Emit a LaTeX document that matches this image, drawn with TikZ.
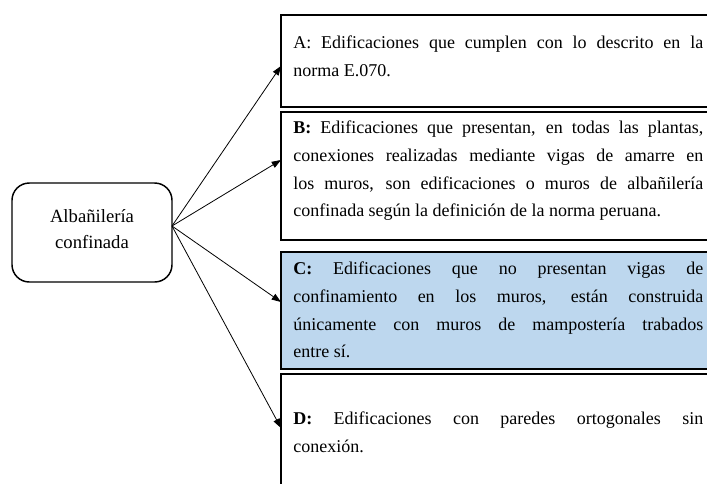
\documentclass[tikz,border=0pt]{standalone}
\usepackage{fontspec}
\setmainfont{Liberation Serif}
\usetikzlibrary{arrows.meta,fit}
\definecolor{boxblue}{HTML}{BDD7EE}
\hyphenpenalty=10000
\exhyphenpenalty=10000
\tolerance=10000
\tikzset{
  catbox/.style={draw=black, line width=1.1pt, inner sep=0pt},
  cattext/.style={anchor=north west, inner sep=0pt, text width=307.5pt, align=justify,
    font=\fontsize{13.5}{20.7}\selectfont},
  rootbox/.style={draw=black, line width=1.1pt, inner sep=0pt, rounded corners=13pt},
  roottext/.style={align=center, inner sep=0pt, font=\fontsize{14}{19.5}\selectfont},
  link/.style={line width=0.6pt, -{Triangle[length=7pt,width=5pt]}},
}
\begin{document}
\begin{tikzpicture}[x=0.75pt,y=-0.75pt]
\useasboundingbox (0,0) rectangle (707,483);
\clip (0,0) rectangle (707,483);

% root
\node[rootbox, fit={(12,183) (172,282)}] (root) {};
\node[roottext] (roottxt) at (92,229) {Albañilería\\confinada};
\coordinate (src) at (172,226);

% category boxes
\node[catbox, fit={(281,15) (715,107)}] (A) {};
\node[catbox, fit={(281,112) (715,240)}] (B) {};
\node[catbox, fill=boxblue, fit={(281,252) (715,369)}] (C) {};
\node[catbox, fit={(281,374) (715,495)}] (D) {};

% texts
\node[cattext] (Atxt) at (293,36) {A: Edificaciones que cumplen con lo descrito en la\linebreak norma E.070.};
\node[cattext] (Btxt) at (293,121) {\textbf{B:} Edificaciones que presentan, en todas las plantas,\linebreak conexiones realizadas mediante vigas de amarre en\linebreak los muros, son edificaciones o muros de albañilería\linebreak confinada según la definición de la norma peruana.};
\node[cattext] (Ctxt) at (293,262) {\textbf{C:} Edificaciones que no presentan vigas de\linebreak confinamiento en los muros, están construida\linebreak únicamente con muros de mampostería trabados\linebreak entre sí.};
\node[cattext] (Dtxt) at (293,412) {\textbf{D:} Edificaciones con paredes ortogonales sin\linebreak conexión.};

% arrow targets on the left sides
\coordinate (tA) at (281,66);
\coordinate (tB) at (281,160);
\coordinate (tC) at (281,302);
\coordinate (tD) at (281,428);

\draw[link] (src) -- (tA);
\draw[link] (src) -- (tB);
\draw[link] (src) -- (tC);
\draw[link] (src) -- (tD);
\end{tikzpicture}
\end{document}
